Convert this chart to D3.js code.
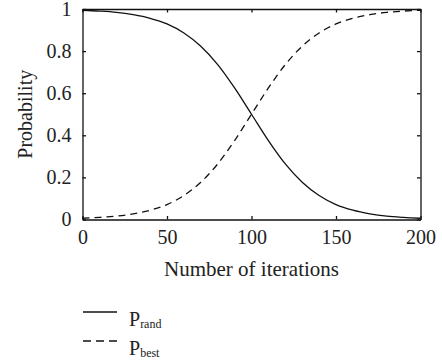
<!DOCTYPE html>
<html>
<head>
<meta charset="utf-8">
<script src="https://cdn.jsdelivr.net/npm/d3@7"></script>
<style>
  body { margin: 0; background: #fff; }
  text { font-family: "Liberation Serif", "DejaVu Serif", serif; fill: #222; }
</style>
</head>
<body>
<div id="chart"></div>
<script>
// values
var iterations = [0, 10, 20, 30, 40, 50, 60, 70, 80, 90, 100, 110, 120, 130, 140, 150, 160, 170, 180, 190, 200];
var pRand = [0.994, 0.990, 0.984, 0.973, 0.956, 0.929, 0.886, 0.823, 0.736, 0.625, 0.5,
             0.375, 0.264, 0.177, 0.114, 0.071, 0.044, 0.027, 0.016, 0.010, 0.006];
var pBest = [0.006, 0.010, 0.016, 0.027, 0.044, 0.071, 0.114, 0.177, 0.264, 0.375, 0.5,
             0.625, 0.736, 0.823, 0.886, 0.929, 0.956, 0.973, 0.984, 0.990, 0.994];
var xTicks = [0, 50, 100, 150, 200];
var yTicks = [0, 0.2, 0.4, 0.6, 0.8, 1];
var yTickLabels = ["0", "0.2", "0.4", "0.6", "0.8", "1"];
var seriesNames = ["rand", "best"];

var svgWidth = 442;
var svgHeight = 361;
var margin = { top: 9, right: 21.5, bottom: 141.5, left: 82.5 };
var chartWidth = svgWidth - margin.left - margin.right;
var chartHeight = svgHeight - margin.top - margin.bottom;

var svg = d3.select("#chart")
    .append("svg")
    .attr("width", svgWidth)
    .attr("height", svgHeight);

var chartGroup = svg.append("g")
    .attr("transform", `translate(${margin.left}, ${margin.top})`);

var xScale = d3.scaleLinear().domain([0, 200]).range([0, chartWidth]);
var yScale = d3.scaleLinear().domain([0, 1]).range([chartHeight, 0]);

// axes, ticks pointing inward, mirrored on top and right
var tickLen = 3.5;
chartGroup.append("g")
    .attr("class", "axis")
    .attr("transform", `translate(0, ${chartHeight})`)
    .call(d3.axisBottom(xScale).tickValues(xTicks).tickSizeInner(-tickLen).tickSizeOuter(0).tickPadding(10));
chartGroup.append("g")
    .attr("class", "axis")
    .call(d3.axisLeft(yScale).tickValues(yTicks).tickFormat((d, i) => yTickLabels[i])
      .tickSizeInner(-tickLen).tickSizeOuter(0).tickPadding(11));
chartGroup.append("g")
    .attr("class", "axis")
    .call(d3.axisTop(xScale).tickValues(xTicks).tickSizeInner(-tickLen).tickSizeOuter(0).tickFormat(""));
chartGroup.append("g")
    .attr("class", "axis")
    .attr("transform", `translate(${chartWidth}, 0)`)
    .call(d3.axisRight(yScale).tickValues(yTicks).tickSizeInner(-tickLen).tickSizeOuter(0).tickFormat(""));

chartGroup.selectAll(".axis path, .axis line")
    .attr("stroke", "#111")
    .attr("stroke-width", 1.3);
chartGroup.selectAll(".axis text")
    .attr("font-size", "20px")
    .attr("font-family", "Liberation Serif, serif")
    .attr("fill", "#222");

// curves
var line = d3.line()
    .x((d, i) => xScale(iterations[i]))
    .y(d => yScale(d))
    .curve(d3.curveMonotoneX);

chartGroup.append("path")
    .datum(pRand)
    .attr("d", line)
    .attr("fill", "none")
    .attr("stroke", "#111")
    .attr("stroke-width", 1.3);

chartGroup.append("path")
    .datum(pBest)
    .attr("d", line)
    .attr("fill", "none")
    .attr("stroke", "#111")
    .attr("stroke-width", 1.3)
    .attr("stroke-dasharray", "7,5");

// axis titles
svg.append("text")
    .attr("x", margin.left + chartWidth / 2)
    .attr("y", 276)
    .attr("text-anchor", "middle")
    .attr("font-size", "21px")
    .text("Number of iterations");

svg.append("text")
    .attr("transform", `translate(32, ${margin.top + chartHeight / 2}) rotate(-90)`)
    .attr("text-anchor", "middle")
    .attr("font-size", "20px")
    .text("Probability");

// legend
var legend = svg.append("g");
var legendY = [312, 341];
seriesNames.forEach(function(name, i) {
    legend.append("line")
        .attr("x1", 83).attr("x2", 117)
        .attr("y1", legendY[i]).attr("y2", legendY[i])
        .attr("stroke", "#111")
        .attr("stroke-width", 1.3)
        .attr("stroke-dasharray", i === 1 ? "8,5" : null);
    var t = legend.append("text")
        .attr("x", 129)
        .attr("y", legendY[i] + 14)
        .attr("font-size", "20px");
    t.append("tspan").text("P");
    t.append("tspan")
        .attr("font-size", "12px")
        .attr("dy", 2)
        .text(name);
});
</script>
</body>
</html>
